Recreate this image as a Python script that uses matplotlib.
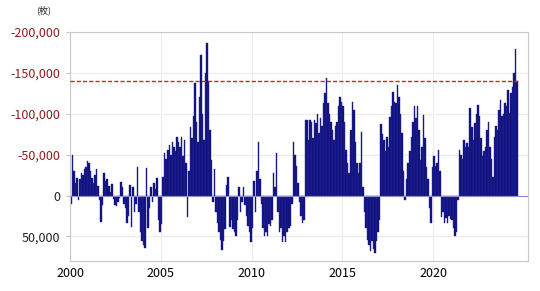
import numpy as np
import matplotlib
matplotlib.use("Agg")
import matplotlib.pyplot as plt
from matplotlib.ticker import FuncFormatter

plt.rcParams['font.family'] = ['Noto Sans CJK JP', 'DejaVu Sans']

# net yen positions (thousand contracts), monthly, negative = net short
y2000 = [10, -50, -30, -15, -22, 5, -20, -28, -25, -32, -35, -42]
y2001 = [-40, -30, -22, -15, -25, -32, -12, 5, 32, 12, -28, -18]
y2002 = [-20, -12, -5, -14, 4, 12, 13, 8, 3, -17, -10, 10]
y2003 = [15, 33, 25, -13, 38, -10, 20, 10, -35, 20, 45, 55]
y2004 = [60, 64, -34, 40, 15, -10, 8, -15, -8, -22, 30, 44]
y2005 = [35, -23, -52, -45, -56, -62, -50, -66, -60, -55, -72, -65]
y2006 = [-60, -72, -48, -68, -40, 26, -30, -84, -70, -97, -138, -90]
y2007 = [-65, -120, -172, -100, -68, -150, -187, -140, -80, -44, 8, -32]
y2008 = [20, 33, 45, 54, 66, 55, 41, -13, -23, 38, 30, 41]
y2009 = [45, 50, 30, -11, 20, 8, -10, 12, 25, 37, 45, 57]
y2010 = [40, -18, 20, -30, -65, -20, 10, 40, 50, 45, 50, 35]
y2011 = [37, 30, -28, -10, -52, 20, 45, 40, 57, 50, 57, 45]
y2012 = [40, 37, 10, -66, -50, -36, -15, 8, 25, 33, 30, -93]
y2013 = [-93, -68, -93, -90, -70, -93, -89, -100, -77, -95, -85, -113]
y2014 = [-125, -144, -113, -100, -90, -80, -68, -85, -90, -110, -120, -115]
y2015 = [-109, -90, -56, -40, -28, -80, -115, -105, -65, -40, -28, -40]
y2016 = [-78, -10, 20, 40, 54, 60, 68, 55, 65, 70, 55, 45]
y2017 = [30, -87, -75, -68, -55, -72, -60, -96, -110, -127, -115, -113]
y2018 = [-135, -121, -100, -77, -30, 5, -20, -40, -55, -72, -90, -109]
y2019 = [-95, -109, -80, -44, -60, -99, -70, -35, -20, 15, 33, -35]
y2020 = [-48, -36, -40, -56, -30, 26, 20, 33, 28, 33, 25, 29]
y2021 = [30, 40, 50, 45, 5, -56, -50, -45, -68, -60, -64, -60]
y2022 = [-107, -84, -68, -89, -100, -111, -97, -70, -48, -55, -60, -80]
y2023 = [-90, -60, -45, -23, -72, -85, -80, -105, -117, -97, -100, -113]
y2024 = [-110, -129, -101, -125, -133, -150, -179, -140]

years = list(range(2000, 2025))
yearly = [y2000, y2001, y2002, y2003, y2004, y2005, y2006, y2007, y2008,
          y2009, y2010, y2011, y2012, y2013, y2014, y2015, y2016, y2017,
          y2018, y2019, y2020, y2021, y2022, y2023, y2024]

ref_level = -140000
x_ticks = [2000, 2005, 2010, 2015, 2020]
y_ticks = [-200000, -150000, -100000, -50000, 0, 50000]

x = []
vals = []
for yr, months in zip(years, yearly):
    for m, v in enumerate(months):
        x.append(yr + m / 12)
        vals.append(v * 1000)
x = np.array(x)
vals = np.array(vals)

fig = plt.figure(figsize=(5.4, 2.91), dpi=100)
ax = fig.add_axes([0.13, 0.103, 0.848, 0.787])

ax.bar(x, vals, width=1 / 12, align='edge', color='#0c0c7e',
       edgecolor='#2a2a90', linewidth=0.3)
ax.axhline(0, color='#8f8fc8', lw=0.8, zorder=3)
ax.plot([x[0], x[-1] + 1 / 12], [ref_level, ref_level], color='#c42a2a',
        lw=1.0, ls=(0, (3, 1.5)), zorder=4)

ax.set_xlim(2000, 2025.23)
ax.set_ylim(80000, -200000)
ax.set_xticks(x_ticks)
ax.set_yticks(y_ticks)
ax.yaxis.set_major_formatter(FuncFormatter(lambda v, p: f"{int(v):,}"))
ax.grid(True, color='#ececec', lw=0.8)
ax.set_axisbelow(True)
for s in ax.spines.values():
    s.set_color('#c8c8c8')
ax.tick_params(axis='y', length=3, color='#c8c8c8', labelsize=9, pad=4)
ax.tick_params(axis='x', length=0, labelsize=9, pad=4)
for lab, v in zip(ax.get_yticklabels(), y_ticks):
    lab.set_color('#8b1e1e' if v < 0 else '#222222')

fig.text(0.067, 0.965, '(枚)', fontsize=6.5, ha='left', va='center', color='#222222')

fig.savefig('out.png', dpi=100)
